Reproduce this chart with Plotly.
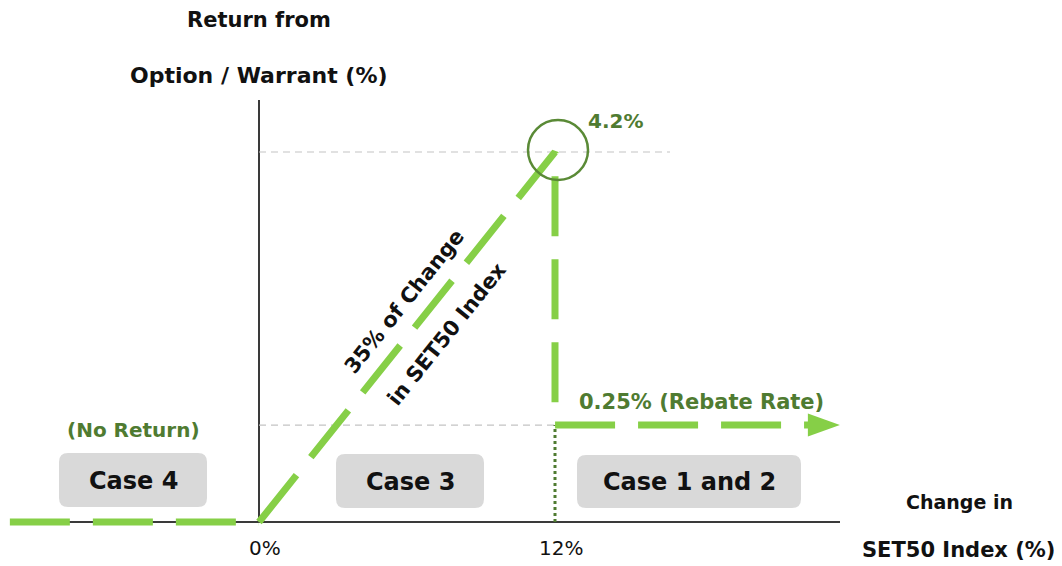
import math
import plotly.graph_objects as go

# ---------------- data (schematic payoff diagram) ----------------
# x: change in SET50 index (%), y: return level as drawn on the schematic axis
no_return_x = [-10.1, 0]
no_return_y = [0, 0]
payoff_x = [0, 12, 12, 23.55]          # participation up to the 12% barrier, then rebate
payoff_y = [0, 4.2, 1.1, 1.1]          # 4.2% peak; rebate level as drawn on the sketch
peak_label = "4.2%"
rebate_label = "0.25% (Rebate Rate)"
x_tick_vals = [0, 12]
x_tick_text = ["0%", "12%"]
case_names = ["Case 4", "Case 3", "Case 1 and 2"]

# ---------------- layout calibration ----------------
W, H = 1062, 566
OFF = 8  # page body margin offset
X0_PX, XSCALE = 259, 296 / 12
Y0_PX, YSCALE = 522, 370 / 4.2


def px2x(px):
    return (px - X0_PX) / XSCALE


def py2y(py):
    return (Y0_PX - py) / YSCALE


LIGHT_GREEN = "#86cf47"
DARK_GREEN = "#4f7b31"
GRID_GRAY = "#c4c4c4"
AXIS_COL = "#3a3a3a"
FONT = "DejaVu Sans"

fig = go.Figure()

peak_x, peak_y = payoff_x[1], payoff_y[1]
barrier_x, rebate_y = payoff_x[2], payoff_y[2]

# gray reference dashes
fig.add_trace(go.Scatter(x=[0, px2x(670)], y=[peak_y, peak_y], mode="lines",
                         line=dict(color=GRID_GRAY, width=1.2, dash="7px,5px"),
                         hoverinfo="skip", showlegend=False))
fig.add_trace(go.Scatter(x=[0, barrier_x], y=[rebate_y, rebate_y], mode="lines",
                         line=dict(color=GRID_GRAY, width=1.2, dash="7px,5px"),
                         hoverinfo="skip", showlegend=False))
# dotted barrier marker
fig.add_trace(go.Scatter(x=[barrier_x, barrier_x], y=[0, rebate_y], mode="lines",
                         line=dict(color=DARK_GREEN, width=3, dash="3px,3px"),
                         hoverinfo="skip", showlegend=False))

# payoff lines
fig.add_trace(go.Scatter(x=no_return_x, y=no_return_y, mode="lines",
                         line=dict(color=LIGHT_GREEN, width=7, dash="60px,23px"),
                         hoverinfo="skip", showlegend=False))
end_x = payoff_x[-1]
line_x = payoff_x[:-1] + [end_x - 20 / XSCALE]
fig.add_trace(go.Scatter(x=line_x, y=payoff_y, mode="lines",
                         line=dict(color=LIGHT_GREEN, width=7, dash="60px,23px"),
                         hoverinfo="skip", showlegend=False))
# arrow head at the end of the rebate line
base_x = end_x - 32 / XSCALE
hh = 11.5 / YSCALE
fig.add_trace(go.Scatter(x=[base_x, end_x, base_x, base_x],
                         y=[rebate_y - hh, rebate_y, rebate_y + hh, rebate_y - hh],
                         mode="lines", fill="toself", fillcolor=LIGHT_GREEN,
                         line=dict(color=LIGHT_GREEN, width=0),
                         hoverinfo="skip", showlegend=False))

shapes = []
# axes
shapes.append(dict(type="line", xref="x", yref="y", x0=px2x(10), x1=px2x(840), y0=0, y1=0,
                   line=dict(color=AXIS_COL, width=2), layer="below"))
shapes.append(dict(type="line", xref="x", yref="y", x0=0, x1=0, y0=0, y1=py2y(100),
                   line=dict(color=AXIS_COL, width=2), layer="below"))


def rrect(x0, y0, x1, y1, r=9):
    def P(px, py):
        return f"{px2x(px):.4f},{py2y(py):.4f}"
    return (f"M {P(x0 + r, y0)} L {P(x1 - r, y0)} Q {P(x1, y0)} {P(x1, y0 + r)} "
            f"L {P(x1, y1 - r)} Q {P(x1, y1)} {P(x1 - r, y1)} L {P(x0 + r, y1)} "
            f"Q {P(x0, y1)} {P(x0, y1 - r)} L {P(x0, y0 + r)} Q {P(x0, y0)} {P(x0 + r, y0)} Z")


boxes = [(59, 453, 207, 507), (336, 454, 484, 508), (577, 455, 801, 508)]
annotations = []
for (bx0, by0, bx1, by1), name in zip(boxes, case_names):
    shapes.append(dict(type="path", xref="x", yref="y", path=rrect(bx0, by0, bx1, by1),
                       fillcolor="#d9d9d9", line=dict(width=0), layer="below"))
    annotations.append(dict(x=px2x((bx0 + bx1) / 2), y=py2y((by0 + by1) / 2 + 0.5),
                            text=name, showarrow=False, xanchor="center", yanchor="middle",
                            font=dict(family=FONT, size=24, color="#111111", weight="bold")))

# circle around the peak
shapes.append(dict(type="circle", xref="x", yref="y", xsizemode="pixel", ysizemode="pixel",
                   xanchor=peak_x + 3 / XSCALE, yanchor=peak_y + 2 / YSCALE,
                   x0=-30, x1=30, y0=-30, y1=30,
                   line=dict(color="#5a8a36", width=2.5), layer="above"))


def txt(text, px, py, size=20, color="#111111", angle=0):
    annotations.append(dict(x=px2x(px), y=py2y(py), text=text, showarrow=False,
                            xanchor="center", yanchor="middle", textangle=angle,
                            font=dict(family=FONT, size=size, color=color, weight="bold")))


txt("Return from", 259, 20, size=21)
txt("Option / Warrant (%)", 259, 75, size=22)
txt(peak_label, 615, 121, size=20, color=DARK_GREEN)
txt("(No Return)", 133, 430, size=20, color=DARK_GREEN)
txt(rebate_label, 701, 402, size=21, color=DARK_GREEN)
for v, t in zip(x_tick_vals, x_tick_text):
    annotations.append(dict(x=v + 6 / XSCALE, y=py2y(548), text=t, showarrow=False,
                            xanchor="center", yanchor="middle",
                            font=dict(family=FONT, size=20, color="#111111")))
txt("Change in", 959, 502, size=19)
txt("SET50 Index (%)", 958, 550, size=21)
ang = -math.degrees(math.atan2(370, 296))
txt("35% of Change", 404, 302, size=21, angle=ang)
txt("in SET50 Index", 447, 334, size=21, angle=ang)

fig.update_layout(
    width=W, height=H, margin=dict(l=0, r=0, t=0, b=0),
    paper_bgcolor="white", plot_bgcolor="white",
    xaxis=dict(range=[px2x(OFF), px2x(OFF + W)], visible=False, fixedrange=True),
    yaxis=dict(range=[py2y(OFF + H), py2y(OFF)], visible=False, fixedrange=True),
    shapes=shapes, annotations=annotations, showlegend=False,
)

fig.write_html("out.html", config={"displayModeBar": False})
